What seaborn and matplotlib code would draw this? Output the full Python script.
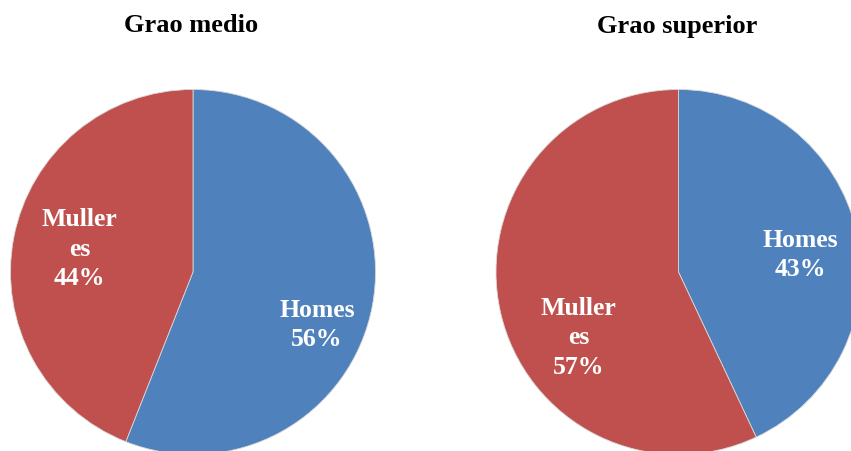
import numpy as np
import matplotlib
matplotlib.use("Agg")
import matplotlib.pyplot as plt
import seaborn as sns

sns.set_theme(style="white")
plt.rcParams['font.family'] = ['Liberation Serif', 'DejaVu Serif']

# data
titles = ["Grao medio", "Grao superior"]
categories = ["Homes", "Mulleres"]
label_text = ["Homes", "Muller\nes"]
medio = [56, 44]
superior = [43, 57]
colors = ["#4F81BD", "#C0504D"]

# label placement (axes data units, pie radius 1)
label_pos = [
    [(0.68, -0.285), (-0.62, 0.13)],
    [(0.667, 0.10), (-0.546, -0.355)],
]

fig = plt.figure(figsize=(8.51, 4.52), dpi=100)

W, H = 851.0, 452.0
R = 182.5
centers = [(193.0, 273.0), (678.5, 273.0)]
title_x = [191, 677]

for k, vals in enumerate([medio, superior]):
    cx, cy = centers[k]
    ax = fig.add_axes([(cx - R) / W, (H - cy - R) / H, 2 * R / W, 2 * R / H])
    wedges, texts = ax.pie(vals, colors=colors, startangle=90, counterclock=False,
                           labels=[f"{l}\n{v}%" for l, v in zip(label_text, vals)],
                           labeldistance=0.5,
                           wedgeprops=dict(linewidth=0.6, edgecolor="#d8d8d8"),
                           textprops=dict(color="white", fontsize=18.5, fontweight="bold",
                                          ha="center", va="center", linespacing=1.35))
    for t, p in zip(texts, label_pos[k]):
        t.set_position(p)
        t.set_horizontalalignment("center")
        t.set_verticalalignment("center")
    ax.set_xlim(-1, 1)
    ax.set_ylim(-1, 1)
    ax.set_aspect("equal")
    ax.axis("off")
    fig.text(title_x[k] / W, 1 - 26 / H, titles[k], ha="center", va="center",
             fontsize=19, fontweight="bold", color="black")

plt.savefig("out.png", dpi=100)
